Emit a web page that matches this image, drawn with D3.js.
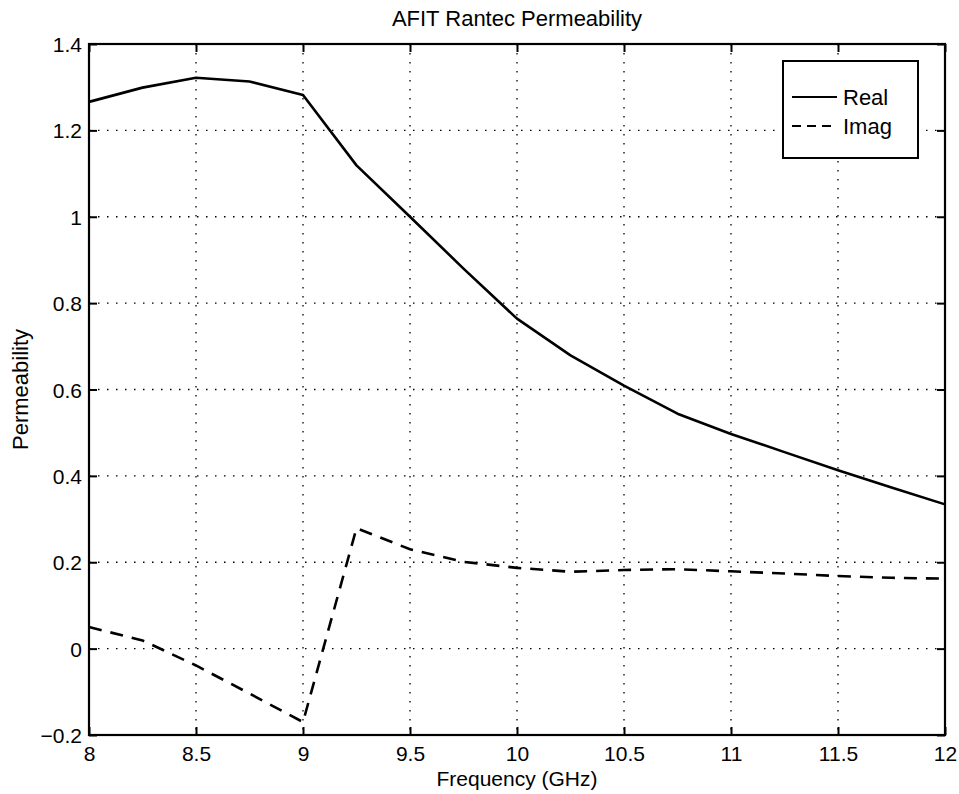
<!DOCTYPE html>
<html>
<head>
<meta charset="utf-8">
<script src="https://cdn.jsdelivr.net/npm/d3@7"></script>
<style>
  body { margin: 0; background: #fff; }
  svg { display: block; font-family: "Liberation Sans", Arial, sans-serif; }
</style>
</head>
<body>
<svg id="chart"></svg>
<script>
// frequency points (GHz)
const FREQ = [8, 8.25, 8.5, 8.75, 9, 9.25, 9.5, 9.75, 10, 10.25, 10.5, 10.75, 11, 11.25, 11.5, 11.75, 12];
const REAL = [1.266, 1.299, 1.322, 1.313, 1.282, 1.119, 1.0, 0.880, 0.764, 0.679, 0.609, 0.544, 0.497, 0.455, 0.413, 0.373, 0.334];
const IMAG = [0.050, 0.019, -0.039, -0.104, -0.170, 0.279, 0.230, 0.201, 0.187, 0.178, 0.182, 0.184, 0.179, 0.174, 0.168, 0.164, 0.162];

const X_TICKS = [8, 8.5, 9, 9.5, 10, 10.5, 11, 11.5, 12];
const Y_TICKS = [-0.2, 0, 0.2, 0.4, 0.6, 0.8, 1, 1.2, 1.4];

const W = 959, H = 794;
const M = {left: 89, right: 14, top: 44, bottom: 59};
const PW = W - M.left - M.right;
const PH = H - M.top - M.bottom;

const svg = d3.select("#chart").attr("width", W).attr("height", H);

const x = d3.scaleLinear().domain([8, 12]).range([0, PW]);
const y = d3.scaleLinear().domain([-0.2, 1.4]).range([PH, 0]);

const g = svg.append("g").attr("transform", `translate(${M.left},${M.top})`);

// dotted grid
g.append("g")
  .selectAll("line")
  .data(X_TICKS.slice(1, -1))
  .enter().append("line")
  .attr("x1", d => x(d)).attr("x2", d => x(d))
  .attr("y1", 0).attr("y2", PH)
  .attr("stroke", "#000").attr("stroke-width", 1.3)
  .attr("stroke-dasharray", "1.5,7.5");

g.append("g")
  .selectAll("line")
  .data(Y_TICKS.slice(1, -1))
  .enter().append("line")
  .attr("x1", 0).attr("x2", PW)
  .attr("y1", d => y(d)).attr("y2", d => y(d))
  .attr("stroke", "#000").attr("stroke-width", 1.3)
  .attr("stroke-dasharray", "1.5,7.5");

// axes, inward ticks on all four sides (matlab style)
const fmt = d => d < 0 ? "\u2212" + Math.abs(d) : String(d);

const xb = g.append("g").attr("transform", `translate(0,${PH})`)
  .call(d3.axisBottom(x).tickValues(X_TICKS).tickSize(-8).tickFormat(fmt));
const xt = g.append("g")
  .call(d3.axisTop(x).tickValues(X_TICKS).tickSize(-8).tickFormat(""));
const yl = g.append("g")
  .call(d3.axisLeft(y).tickValues(Y_TICKS).tickSize(-8).tickFormat(fmt));
const yr = g.append("g").attr("transform", `translate(${PW},0)`)
  .call(d3.axisRight(y).tickValues(Y_TICKS).tickSize(-8).tickFormat(""));

[xb, xt, yl, yr].forEach(a => {
  a.select(".domain").remove();
  a.selectAll(".tick line").attr("stroke", "#000").attr("stroke-width", 2);
  a.selectAll("text").attr("font-size", 21).attr("fill", "#000")
    .attr("font-family", "Liberation Sans, Arial, sans-serif");
});
xb.selectAll("text").attr("y", 26).attr("dy", 0);
yl.selectAll("text").attr("x", -7).attr("dy", "0.36em");

g.append("rect")
  .attr("x", 0).attr("y", 0).attr("width", PW).attr("height", PH)
  .attr("fill", "none").attr("stroke", "#000").attr("stroke-width", 2.2);

// curves
const line = d3.line().x((d, i) => x(FREQ[i])).y(d => y(d));

g.append("path").datum(REAL)
  .attr("d", line).attr("fill", "none")
  .attr("stroke", "#000").attr("stroke-width", 2.6).attr("stroke-linejoin", "round");

g.append("path").datum(IMAG)
  .attr("d", line).attr("fill", "none")
  .attr("stroke", "#000").attr("stroke-width", 2.6)
  .attr("stroke-dasharray", "13,9");

// titles
svg.append("text")
  .attr("x", M.left + PW / 2).attr("y", 26)
  .attr("text-anchor", "middle").attr("font-size", 22)
  .text("AFIT Rantec Permeability");

svg.append("text")
  .attr("x", M.left + PW / 2).attr("y", 786)
  .attr("text-anchor", "middle").attr("font-size", 21)
  .text("Frequency (GHz)");

svg.append("text")
  .attr("transform", `translate(28,${M.top + PH / 2}) rotate(-90)`)
  .attr("text-anchor", "middle").attr("font-size", 22)
  .text("Permeability");

// legend
const lg = svg.append("g").attr("transform", "translate(783,61)");
lg.append("rect").attr("width", 135).attr("height", 97)
  .attr("fill", "#fff").attr("stroke", "#000").attr("stroke-width", 2);

const LEGEND = [
  {label: "Real", dash: null, yy: 36},
  {label: "Imag", dash: "9,6", yy: 65}
];
LEGEND.forEach(d => {
  lg.append("line")
    .attr("x1", 9).attr("x2", 54).attr("y1", d.yy).attr("y2", d.yy)
    .attr("stroke", "#000").attr("stroke-width", 2)
    .attr("stroke-dasharray", d.dash);
  lg.append("text")
    .attr("x", 60).attr("y", d.yy + 8)
    .attr("font-size", 22)
    .text(d.label);
});
</script>
</body>
</html>
